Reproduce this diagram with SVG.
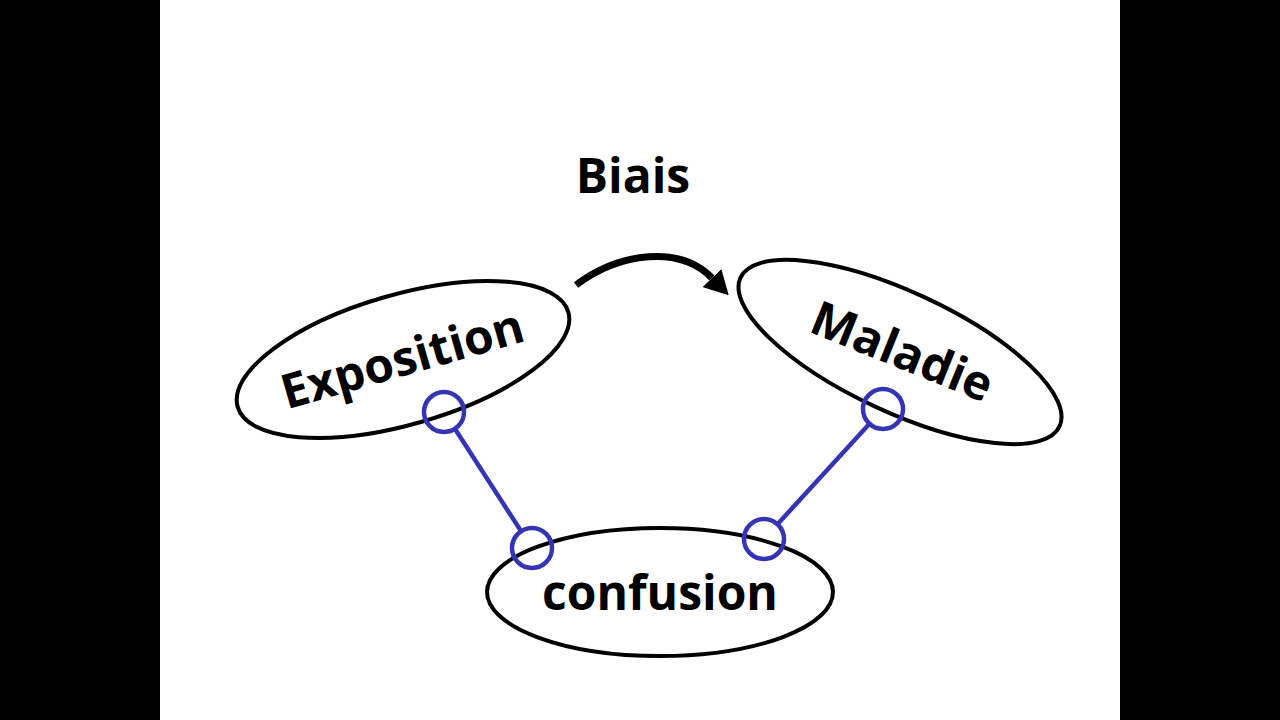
<svg xmlns="http://www.w3.org/2000/svg" width="1280" height="720" viewBox="0 0 1280 720">
  <style>
    .node { fill: none; stroke: #000; stroke-width: 4; }
    .lbl { font-family: "Open Sans", "DejaVu Sans", sans-serif; font-weight: bold; font-size: 48px; fill: #000; text-anchor: middle; }
    .port { fill: none; stroke: #3434b4; stroke-width: 4.5; }
    .link { stroke: #3434b4; stroke-width: 4.5; fill: none; }
    .arrow { stroke: #000; stroke-width: 7; fill: none; }
  </style>
  <defs>
    <marker id="head" viewBox="0 0 24 26" refX="0" refY="13" markerWidth="24" markerHeight="26" markerUnits="userSpaceOnUse" orient="auto">
      <path d="M0,0 L24,13 L0,26 z" fill="#000"/>
    </marker>
  </defs>
  <rect x="0" y="0" width="1280" height="720" fill="#fff"/>
  <rect x="0" y="0" width="160" height="720" fill="#000"/>
  <rect x="1120" y="0" width="160" height="720" fill="#000"/>

  <g id="biais">
    <text class="lbl" x="633" y="193">Biais</text>
  </g>

  <g id="exposition">
    <ellipse class="node" cx="0" cy="0" rx="172" ry="65" transform="translate(403,359.5) rotate(-16)"/>
    <text class="lbl" x="0" y="0" transform="translate(407,375) rotate(-16)">Exposition</text>
  </g>

  <g id="maladie">
    <ellipse class="node" cx="0" cy="0" rx="176" ry="60" transform="translate(900,352) rotate(25)"/>
    <text class="lbl" x="0" y="0" transform="translate(896,367) rotate(22)">Maladie</text>
  </g>

  <g id="confusion">
    <ellipse class="node" cx="660" cy="592" rx="173" ry="64"/>
    <text class="lbl" x="660" y="610">confusion</text>
  </g>

  <g id="connectors">
    <path class="arrow" d="M576,285 C620,252 680,245 712,278" marker-end="url(#head)"/>
    <circle class="port" cx="444" cy="412" r="20"/>
    <circle class="port" cx="532" cy="548" r="20"/>
    <circle class="port" cx="764" cy="539" r="20"/>
    <circle class="port" cx="883" cy="409" r="20"/>
    <line class="link" x1="454.9" y1="428.8" x2="521.1" y2="531.2"/>
    <line class="link" x1="777.5" y1="524.2" x2="869.5" y2="423.8"/>
  </g>
</svg>
